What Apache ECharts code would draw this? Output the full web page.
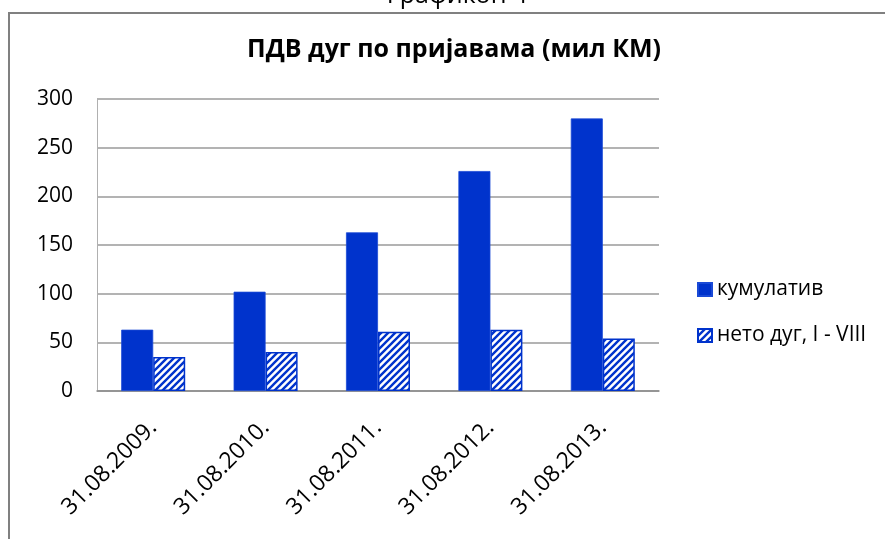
<!DOCTYPE html>
<html>
<head>
<meta charset="utf-8">
<script src="https://cdn.jsdelivr.net/npm/echarts@6/dist/echarts.min.js"></script>
<style>
html,body{margin:0;padding:0;background:#fff;}
#chart{width:885px;height:539px;}
</style>
</head>
<body>
<div id="chart"></div>
<script>
const pageTitle = 'Графикон 4';
const chartTitle = 'ПДВ дуг по пријавама (мил КМ)';
const categories = ['31.08.2009.', '31.08.2010.', '31.08.2011.', '31.08.2012.', '31.08.2013.'];
const seriesNames = ['кумулатив', 'нето дуг, I - VIII'];
const cumulative = [63, 102, 163, 226, 280];
const netDebt = [35, 40, 61, 63, 54];
const yTicks = [0, 50, 100, 150, 200, 250, 300];

const BLUE = '#0033cc';
const FONT = '"Open Sans", "Noto Sans", sans-serif';

function hatch() {
  const c = document.createElement('canvas');
  const s = 7;
  c.width = s; c.height = s;
  const g = c.getContext('2d');
  g.fillStyle = '#fff';
  g.fillRect(0, 0, s, s);
  g.strokeStyle = BLUE;
  g.lineWidth = 2.4;
  g.beginPath();
  g.moveTo(-1, s + 1); g.lineTo(s + 1, -1);
  g.moveTo(-1, 1); g.lineTo(1, -1);
  g.moveTo(s - 1, s + 1); g.lineTo(s + 1, s - 1);
  g.stroke();
  return c;
}

const chart = echarts.init(document.getElementById('chart'), null, {renderer: 'canvas'});
chart.setOption({
  backgroundColor: '#fff',
  animation: false,
  graphic: [{
    type: 'rect',
    shape: {x: 9, y: 13, width: 1000, height: 700},
    style: {fill: 'none', stroke: '#808080', lineWidth: 2},
    silent: true, z: -1
  }],
  title: [{
    text: pageTitle,
    left: 457, textAlign: 'center',
    top: -17,
    padding: 0,
    textStyle: {fontFamily: FONT, fontSize: 25, fontWeight: 'normal', color: '#000'}
  }, {
    text: chartTitle,
    left: 454, textAlign: 'center',
    top: 37,
    padding: 0,
    textStyle: {fontFamily: FONT, fontSize: 25, fontWeight: 'bold', color: '#000'}
  }],
  legend: {
    orient: 'vertical',
    left: 697,
    top: 279,
    padding: 0,
    icon: 'rect',
    itemWidth: 14,
    itemHeight: 13,
    itemGap: 25,
    textStyle: {fontFamily: FONT, fontSize: 21, color: '#000'},
    data: seriesNames
  },
  grid: {left: 97, right: 226, top: 99, bottom: 148, containLabel: false},
  xAxis: {
    type: 'category',
    data: categories,
    axisLine: {lineStyle: {color: '#8c8c8c', width: 1.5}},
    axisTick: {show: false},
    axisLabel: {rotate: 45, margin: 33, fontFamily: FONT, fontSize: 23, color: '#000', interval: 0}
  },
  yAxis: {
    type: 'value',
    min: yTicks[0],
    max: yTicks[yTicks.length - 1],
    interval: yTicks[1] - yTicks[0],
    axisLine: {show: true, lineStyle: {color: '#b0b0b0', width: 1}},
    axisTick: {show: false},
    splitLine: {lineStyle: {color: '#9a9a9a', width: 1.5}},
    axisLabel: {margin: 24, fontFamily: FONT, fontSize: 21, color: '#000'}
  },
  series: [{
    name: seriesNames[0],
    type: 'bar',
    data: cumulative,
    barWidth: 32,
    barGap: '0%',
    itemStyle: {color: BLUE, borderColor: '#1a4ad6', borderWidth: 0.8}
  }, {
    name: seriesNames[1],
    type: 'bar',
    data: netDebt,
    barWidth: 32,
    barGap: '0%',
    itemStyle: {color: {image: hatch(), repeat: 'repeat'}, borderColor: BLUE, borderWidth: 1.5}
  }]
});
</script>
</body>
</html>
